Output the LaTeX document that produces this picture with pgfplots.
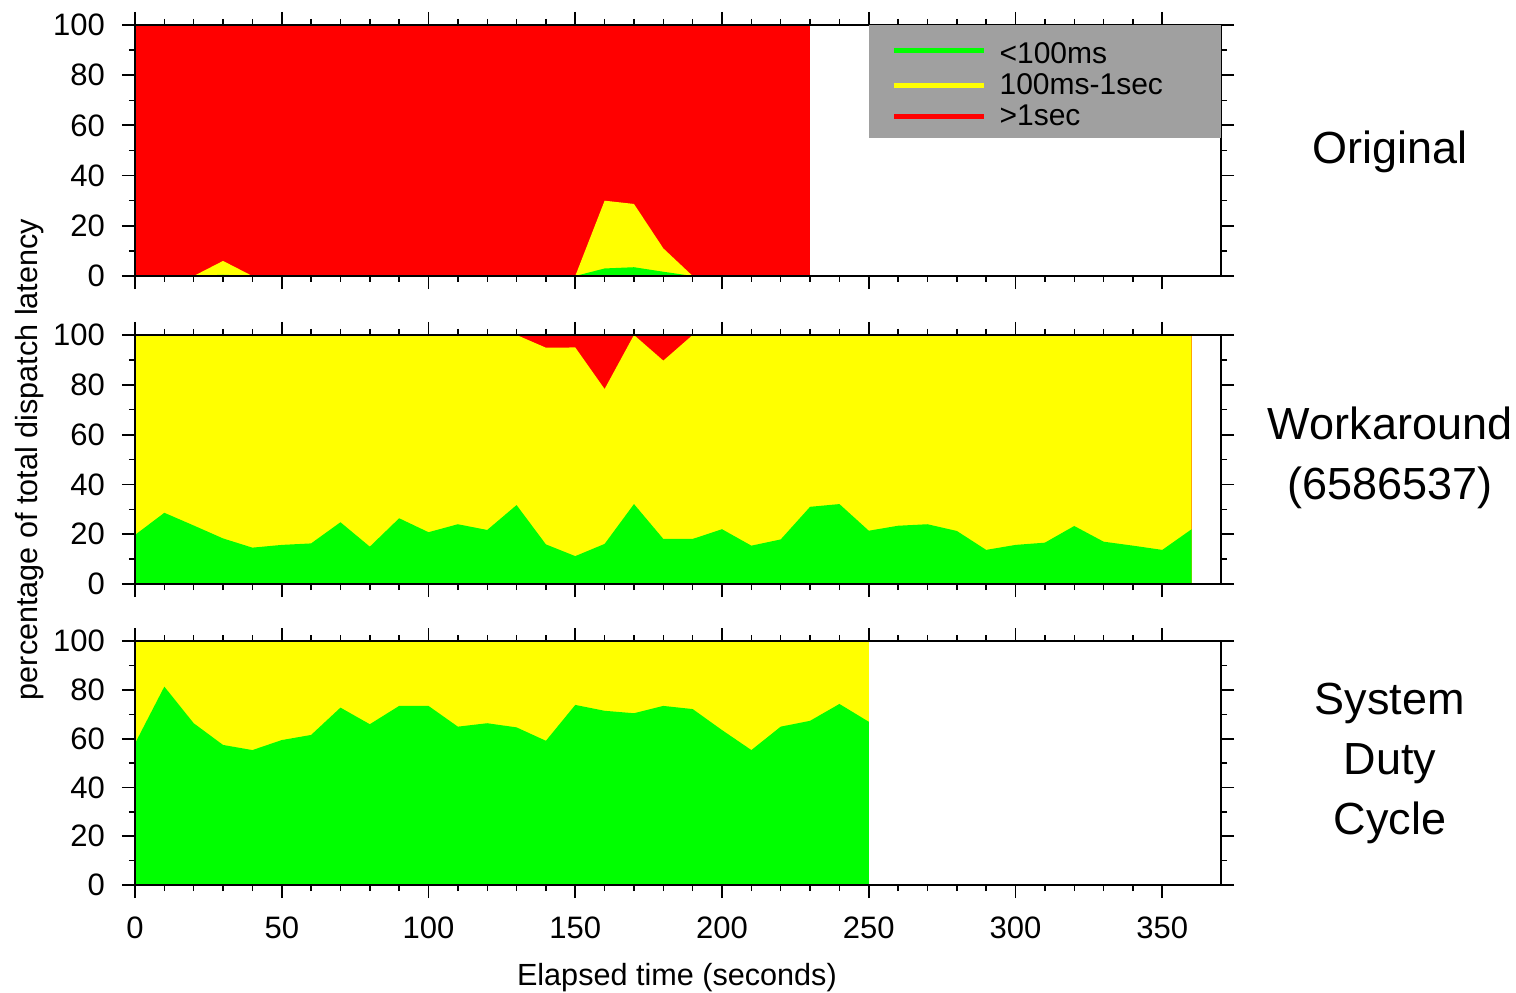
\documentclass[border=0pt]{standalone}
\usepackage{fontspec}
\setmainfont{Liberation Sans}
\usepackage{pgfplots}
\pgfplotsset{compat=1.18}
\definecolor{lgGray}{RGB}{160,160,160}
\definecolor{cGreen}{RGB}{0,255,0}
\definecolor{cYellow}{RGB}{255,255,0}
\definecolor{cRed}{RGB}{255,0,0}

\tikzset{ttl/.style={font=\fontsize{22.5}{30}\selectfont, align=center, anchor=center}}
\pgfplotsset{
  panel/.style={
    width=543pt, scale only axis,
    xmin=0, xmax=370, ymin=0, ymax=100,
    xtick={0,50,...,350}, minor x tick num=4,
    ytick={0,20,...,100}, minor y tick num=1,
    tick align=outside, major tick length=6.5pt, minor tick length=3pt,
    axis line style={line width=0.9pt},
    every tick/.style={black, line width=0.9pt},
    every minor tick/.style={black, line width=0.7pt},
    /pgf/number format/assume math mode=true,
    ticklabel style={font=\fontsize{15.5}{15.5}\selectfont},
    yticklabel style={xshift=-5pt},
    xticklabel style={yshift=-6pt},
    label style={font=\fontsize{15.3}{15.3}\selectfont},
    axis on top, clip=false,
  },
}

\begin{document}
\begin{tikzpicture}
\path[use as bounding box] (-67.5pt,-53.5pt) rectangle (690.5pt,442.5pt);

% --- Original
\begin{axis}[panel, height=125.5pt, at={(0,304.5pt)}, xticklabels={},
  legend style={fill=lgGray, draw=none, at={(1,1)}, anchor=north east,
    font=\fontsize{15}{15}\selectfont, inner xsep=11.5pt, inner ysep=2.75pt, row sep=-0.5pt},
  legend cell align=left,
  legend image code/.code={\draw[#1] (0pt,0pt) -- (45pt,0pt);},
  /tikz/every odd column/.append style={column sep=4.5pt}]
\addplot[fill=cRed, draw=none, forget plot] coordinates {(0,100) (230,100)} \closedcycle;
\addplot[fill=cYellow, draw=none, forget plot] coordinates {
 (0,0) (10,0) (20,0) (30,6) (40,0) (50,0) (60,0) (70,0) (80,0) (90,0) (100,0)
 (110,0) (120,0) (130,0) (140,0) (150,0) (160,30) (170,28.7) (180,11) (190,0)
 (200,0) (210,0) (220,0) (230,0)} \closedcycle;
\addplot[fill=cGreen, draw=none, forget plot] coordinates {
 (0,0) (10,0) (20,0) (30,0.5) (40,0) (50,0) (60,0) (70,0) (80,0) (90,0) (100,0)
 (110,0) (120,0) (130,0) (140,0) (150,0) (160,3) (170,3.5) (180,1.7) (190,0)
 (200,0) (210,0) (220,0) (230,0)} \closedcycle;
\addlegendimage{cGreen, line width=2.5pt}
\addlegendentry{\makebox[97pt][l]{\strut\rule{0pt}{14.5pt}<100ms}}
\addlegendimage{cYellow, line width=2.5pt}
\addlegendentry{\makebox[97pt][l]{\strut 100ms-1sec}}
\addlegendimage{cRed, line width=2.5pt}
\addlegendentry{\makebox[97pt][l]{\strut >1sec}}
\node[ttl] at (rel axis cs:1.1556,0.494) {Original};
\end{axis}

% --- Workaround
\begin{axis}[panel, height=124.5pt, at={(0,150.5pt)}, xticklabels={},
  ylabel={percentage of total dispatch latency},
  ylabel style={at={(axis description cs:-0.0967,0.5)}, anchor=center}]
\addplot[fill=cRed, draw=none] coordinates {(0,100) (360,100)} \closedcycle;
\addplot[fill=cYellow, draw=none] coordinates {
 (0,100) (10,100) (20,100) (30,100) (40,100) (50,100) (60,100) (70,100) (80,100)
 (90,100) (100,100) (110,100) (120,100) (130,100) (140,94.9) (150,95) (160,78.3)
 (170,100) (180,89.7) (190,100) (200,100) (210,100) (220,100) (230,100) (240,100)
 (250,100) (260,100) (270,100) (280,100) (290,100) (300,100) (310,100) (320,100)
 (330,100) (340,100) (350,100) (360,100)} \closedcycle;
\addplot[fill=cGreen, draw=none] coordinates {
 (0,19.7) (10,28.6) (20,23.5) (30,18.3) (40,14.6) (50,15.7) (60,16.3) (70,24.8)
 (80,15) (90,26.4) (100,20.8) (110,24) (120,21.7) (130,31.7) (140,15.9) (150,11.2)
 (160,16.1) (170,32.1) (180,18.1) (190,18.1) (200,22) (210,15.4) (220,17.9)
 (230,31) (240,32.1) (250,21.4) (260,23.4) (270,24) (280,21.3) (290,13.7)
 (300,15.7) (310,16.6) (320,23.3) (330,17) (340,15.4) (350,13.7) (360,22)} \closedcycle;
\node[ttl] at (rel axis cs:1.1556,0.505) {Workaround\\(6586537)};
\end{axis}

% --- System Duty Cycle
\begin{axis}[panel, height=122pt, at={(0,0)},
  xlabel={Elapsed time (seconds)},
  xlabel style={at={(axis description cs:0.499,0)}, yshift=-46.5pt, anchor=center}]
\addplot[fill=cYellow, draw=none] coordinates {(0,100) (250,100)} \closedcycle;
\addplot[fill=cGreen, draw=none] coordinates {
 (0,58) (10,81.3) (20,66.3) (30,57.4) (40,55.3) (50,59.4) (60,61.5) (70,72.7)
 (80,65.9) (90,73.4) (100,73.4) (110,64.9) (120,66.3) (130,64.6) (140,59.1)
 (150,73.8) (160,71.4) (170,70.4) (180,73.4) (190,72.1) (200,63.5) (210,55.3)
 (220,64.9) (230,67.3) (240,74.2) (250,66.9)} \closedcycle;
\node[ttl] at (rel axis cs:1.1556,0.497) {System\\Duty\\Cycle};
\end{axis}
\end{tikzpicture}
\end{document}
